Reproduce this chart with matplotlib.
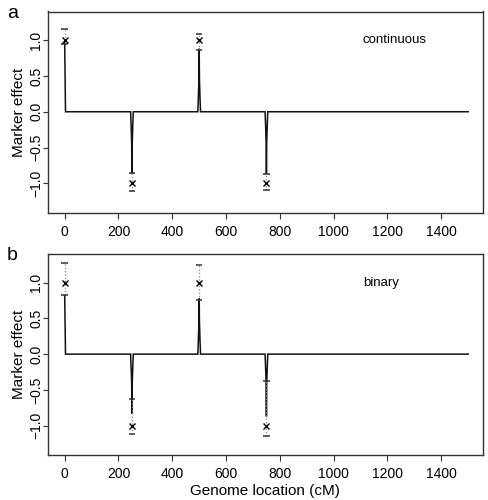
"""
Marker effects along the genome, continuous vs binary trait
"""
import matplotlib
matplotlib.use('Agg')
import matplotlib.pyplot as plt

plt.rcParams['font.family'] = ['Liberation Sans', 'DejaVu Sans']

# QTL positions and true effects
qtl_pos = [0, 250, 500, 750]
true_eff = [1.0, -1.0, 1.0, -1.0]

# Estimated effect profile (line), continuous trait
cont_x = [0, 3, 245, 247, 249, 250, 251, 253, 255, 495, 497, 499, 500, 501, 503, 505,
          745, 747, 749, 750, 751, 753, 755, 1500]
cont_y = [0.97, 0, 0, -0.2, -0.45, -0.86, -0.45, -0.2, 0, 0, 0.2, 0.45, 0.88, 0.45, 0.2, 0,
          0, -0.2, -0.45, -0.87, -0.45, -0.2, 0, 0]
cont_lo = [0.95, -1.10, 0.86, -1.09]
cont_hi = [1.15, -0.86, 1.09, -0.87]

# Estimated effect profile (line), binary trait
bin_x = [0, 3, 245, 247, 249, 250, 251, 253, 255, 495, 497, 499, 500, 501, 503, 505,
         745, 747, 749, 750, 751, 753, 755, 1500]
bin_y = [0.82, 0, 0, -0.2, -0.4, -0.83, -0.4, -0.2, 0, 0, 0.2, 0.45, 0.78, 0.45, 0.2, 0,
         0, -0.2, -0.4, -0.87, -0.4, -0.2, 0, 0]
bin_lo = [0.82, -1.12, 0.76, -1.14]
bin_hi = [1.28, -0.63, 1.25, -0.37]

xticks = [0, 200, 400, 600, 800, 1000, 1200, 1400]
yticks = [-1.0, -0.5, 0.0, 0.5, 1.0]

fig = plt.figure(figsize=(4.88, 5.0), dpi=100)
ax_a = fig.add_axes([0.0984, 0.5746, 0.8907, 0.4024])
ax_b = fig.add_axes([0.0984, 0.09, 0.8907, 0.402])

panels = [
    (ax_a, 'a', 'continuous', cont_x, cont_y, cont_lo, cont_hi, (0.797, 0.858)),
    (ax_b, 'b', 'binary', bin_x, bin_y, bin_lo, bin_hi, (0.766, 0.858)),
]

for ax, letter, name, lx, ly, lo, hi, txt_pos in panels:
    # estimated effects
    ax.plot(lx, ly, color='#111111', lw=1.1, solid_joinstyle='miter')
    # interval: dotted bar with caps
    ax.vlines(qtl_pos, lo, hi, colors='#888888', linestyles=':', lw=0.9)
    ax.hlines(lo, [p - 12 for p in qtl_pos], [p + 12 for p in qtl_pos],
              colors='#333333', lw=1.1)
    ax.hlines(hi, [p - 12 for p in qtl_pos], [p + 12 for p in qtl_pos],
              colors='#333333', lw=1.1)
    # true effects
    ax.plot(qtl_pos, true_eff, 'x', color='black', ms=5, mew=1.0)

    ax.set_xlim(-62, 1554)
    ax.set_ylim(-1.41, 1.40)
    ax.set_xticks(xticks)
    ax.set_yticks(yticks)
    ax.set_yticklabels([f'{v:.1f}'.replace('-', '\u2212') for v in yticks],
                       rotation=90, va='center')
    ax.tick_params(direction='out', length=4, width=0.8, labelsize=10,
                   color='#333333')
    ax.tick_params(axis='x', pad=4.5)
    ax.tick_params(axis='y', length=3.5, pad=0)
    for sp in ax.spines.values():
        sp.set_linewidth(1.0)
        sp.set_color('#333333')
    ax.set_ylabel('Marker effect', fontsize=11, labelpad=2)
    ax.text(txt_pos[0], txt_pos[1], name, transform=ax.transAxes, fontsize=9.5,
            ha='center', va='center')
    fig.text(0.014, ax.get_position().y1 - 0.004, letter, fontsize=14,
             ha='left', va='center')

ax_b.set_xlabel('Genome location (cM)', fontsize=11, labelpad=2)

plt.savefig('out.png', dpi=100)
